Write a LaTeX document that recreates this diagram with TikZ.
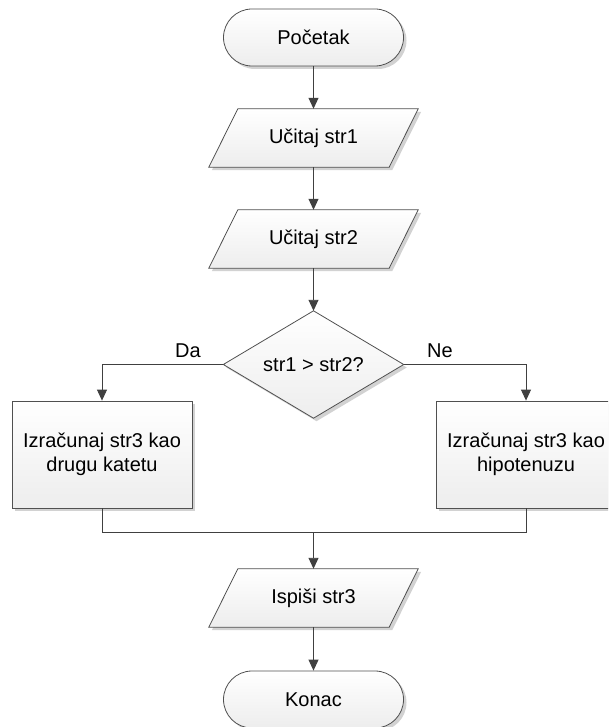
\documentclass[tikz,border=0pt]{standalone}
\usepackage{fontspec}
\setmainfont{Liberation Sans}
\usetikzlibrary{arrows.meta,shadows}
\definecolor{linec}{HTML}{404040}
\definecolor{edgec}{HTML}{505050}
\tikzset{
  x=1pt, y=-1pt,
  every node/.style={font=\fontsize{20}{24}\selectfont, text=black},
  shd/.style={drop shadow={shadow xshift=3pt, shadow yshift=-3pt, fill=gray!35, opacity=1}},
  grad/.style={top color=white, bottom color=gray!14, draw=edgec, line width=0.8pt},
  termbox/.style={rectangle, rounded corners=28.5pt, minimum width=180pt, minimum height=57pt, inner sep=0pt, grad, shd},
  procbox/.style={rectangle, minimum width=180pt, minimum height=107pt, inner sep=0pt, align=center, grad, shd},
  iobox/.style={rectangle, minimum width=209pt, minimum height=58pt, inner sep=0pt},
  decbox/.style={rectangle, minimum width=180pt, minimum height=107pt, inner sep=0pt},
  arr/.style={draw=linec, line width=0.9pt, -{Triangle[length=11pt,width=10pt]}},
  conn/.style={draw=linec, line width=0.9pt},
  lbl/.style={inner sep=0pt}
}
\begin{document}
\begin{tikzpicture}
\useasboundingbox (0,0) rectangle (608,727);
\clip (0,0) rectangle (608,727);

% terminals
\node[termbox] (start) at (313.5,37.5) {Početak};
\node[termbox] (stop) at (313.5,699.5) {Konac};

% input/output parallelograms (text nodes + drawn shapes)
\node[iobox] (in1) at (313.5,138) {};
\node[iobox] (in2) at (313.5,239) {};
\node[iobox] (out) at (313.5,598) {};
\foreach \n in {in1,in2,out}{
  \path[grad, shd] ([xshift=29pt]\n.north west) -- (\n.north east)
     -- ([xshift=-29pt]\n.south east) -- (\n.south west) -- cycle;
}
\node at (in1) {Učitaj str1};
\node at (in2) {Učitaj str2};
\node at (out) {Ispiši str3};

% decision
\node[decbox] (dec) at (313.5,364.5) {};
\path[grad, shd] (dec.north) -- (dec.east) -- (dec.south) -- (dec.west) -- cycle;
\node at (dec) {str1 > str2?};

% process boxes
\node[procbox] (left) at (102,454.5) {Izračunaj str3 kao\\drugu katetu};
\node[procbox] (right) at (526,454.5) {Izračunaj str3 kao\\hipotenuzu};

% connectors
\draw[arr] (start.south) -- (in1.north);
\draw[arr] (in1.south) -- (in2.north);
\draw[arr] (in2.south) -- (dec.north);
\draw[arr] (dec.west) -| (left.north);
\draw[arr] (dec.east) -| (right.north);
\node[lbl] (da) at (188,351) {Da};
\node[lbl] (ne) at (440,351) {Ne};

\coordinate (mid) at (313.5,532);
\draw[conn] (left.south) |- (mid);
\draw[conn] (right.south) |- (mid);
\draw[arr] (mid) -- (out.north);
\draw[arr] (out.south) -- (stop.north);
\end{tikzpicture}
\end{document}
